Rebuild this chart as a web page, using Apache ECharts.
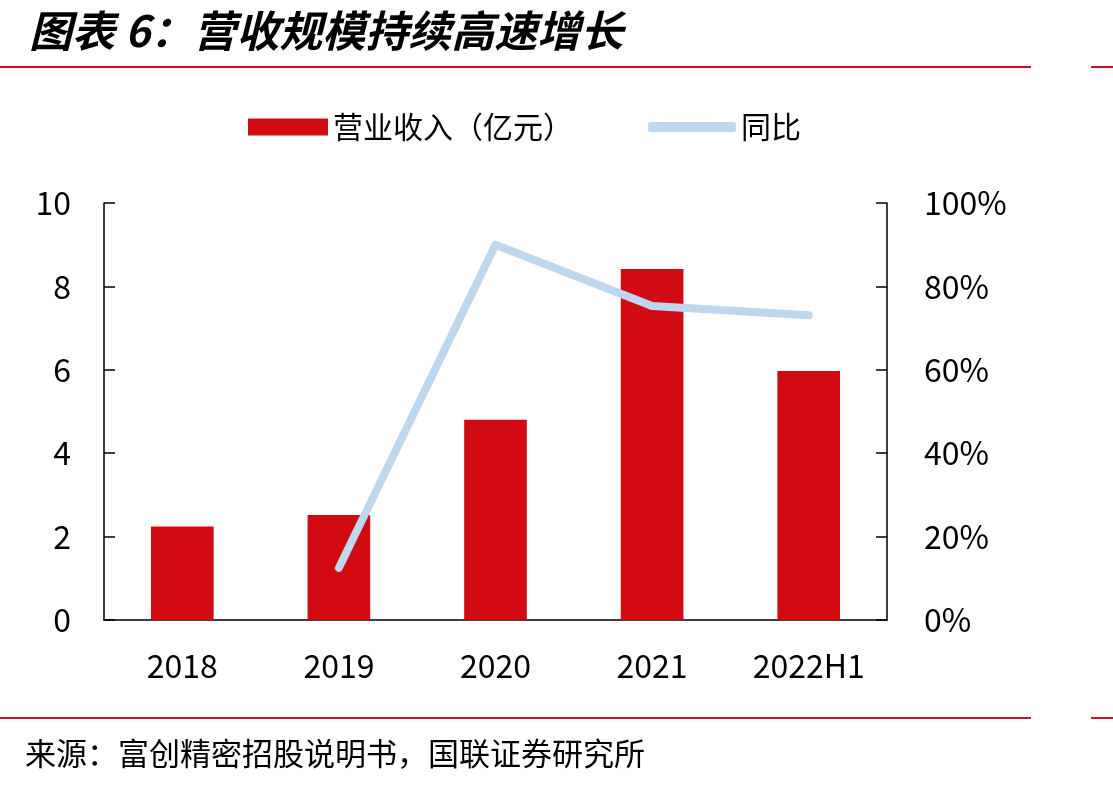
<!DOCTYPE html>
<html>
<head>
<meta charset="utf-8">
<script src="https://cdn.jsdelivr.net/npm/echarts@6/dist/echarts.min.js"></script>
<style>
  html, body { margin: 0; padding: 0; background: #fff; }
  #chart { width: 1113px; height: 785px; }
</style>
</head>
<body>
<div id="chart"></div>
<script>
// 数据
var years = ["2018", "2019", "2020", "2021", "2022H1"];
var revenue = [2.24, 2.52, 4.80, 8.42, 5.97];      // 营业收入（亿元）
var yoy = [null, 0.125, 0.90, 0.753, 0.731];        // 同比
var leftTicks = [0, 2, 4, 6, 8, 10];
var rightTicks = [0, 0.2, 0.4, 0.6, 0.8, 1.0];

var FONT = '"Noto Sans CJK SC", "Noto Sans", sans-serif';
var RED = "#D20A11";
var BLUE = "#BDD7EE";
var RULE = "#C8102E";

var chart = echarts.init(document.getElementById("chart"));

var option = {
  animation: false,
  backgroundColor: "#fff",
  textStyle: { fontFamily: FONT, color: "#000" },
  title: [
    {
      text: "图表 6：营收规模持续高速增长",
      left: 24,
      top: 4,
      textStyle: { fontFamily: FONT, fontSize: 43, fontStyle: "italic", fontWeight: "bold", color: "#000" }
    },
    {
      text: "来源：富创精密招股说明书，国联证券研究所",
      left: 20,
      top: 733,
      textStyle: { fontFamily: FONT, fontSize: 31, fontWeight: "normal", color: "#000" }
    }
  ],
  graphic: [
    { type: "line", shape: { x1: 0, y1: 67, x2: 1031, y2: 67 }, style: { stroke: RULE, lineWidth: 2 } },
    { type: "line", shape: { x1: 1091, y1: 67, x2: 1113, y2: 67 }, style: { stroke: RULE, lineWidth: 2 } },
    { type: "line", shape: { x1: 0, y1: 718, x2: 1031, y2: 718 }, style: { stroke: RULE, lineWidth: 2 } },
    { type: "line", shape: { x1: 1091, y1: 718, x2: 1113, y2: 718 }, style: { stroke: RULE, lineWidth: 2 } }
  ],
  legend: [
    {
      data: [{ name: "营业收入（亿元）", icon: "rect" }],
      left: 248,
      top: 112,
      padding: 0,
      itemWidth: 80,
      itemHeight: 17,
      itemGap: 10,
      textStyle: { fontFamily: FONT, fontSize: 30, color: "#000" }
    },
    {
      data: [{ name: "同比", icon: "roundRect" }],
      left: 648,
      top: 112,
      padding: 0,
      itemWidth: 88,
      itemHeight: 10,
      itemGap: 6,
      itemStyle: { color: BLUE },
      textStyle: { fontFamily: FONT, fontSize: 30, color: "#000" }
    }
  ],
  grid: { left: 104, right: 226, top: 203, bottom: 165 },
  xAxis: {
    type: "category",
    data: years,
    axisLine: { lineStyle: { color: "#000", width: 1.5 } },
    axisTick: { show: false },
    axisLabel: { fontSize: 32, color: "#000", margin: 30, fontFamily: FONT }
  },
  yAxis: [
    {
      type: "value",
      min: leftTicks[0],
      max: leftTicks[leftTicks.length - 1],
      interval: 2,
      axisLine: { show: true, lineStyle: { color: "#000", width: 1.5 } },
      axisTick: { show: true, inside: true, length: 11, lineStyle: { color: "#000", width: 1.5 } },
      splitLine: { show: false },
      axisLabel: { fontSize: 32, color: "#000", margin: 33, fontFamily: FONT }
    },
    {
      type: "value",
      min: rightTicks[0],
      max: rightTicks[rightTicks.length - 1],
      interval: 0.2,
      axisLine: { show: true, lineStyle: { color: "#000", width: 1.5 } },
      axisTick: { show: true, inside: true, length: 11, lineStyle: { color: "#000", width: 1.5 } },
      splitLine: { show: false },
      axisLabel: {
        fontSize: 32, color: "#000", margin: 37, fontFamily: FONT,
        formatter: function (v) { return Math.round(v * 100) + "%"; }
      }
    }
  ],
  series: [
    {
      name: "营业收入（亿元）",
      type: "bar",
      data: revenue,
      barWidth: "40%",
      itemStyle: { color: RED }
    },
    {
      name: "同比",
      type: "line",
      yAxisIndex: 1,
      data: yoy,
      showSymbol: false,
      symbol: "none",
      itemStyle: { color: BLUE },
      lineStyle: { color: BLUE, width: 8, cap: "round", join: "round" }
    }
  ]
};

chart.setOption(option);
</script>
</body>
</html>
